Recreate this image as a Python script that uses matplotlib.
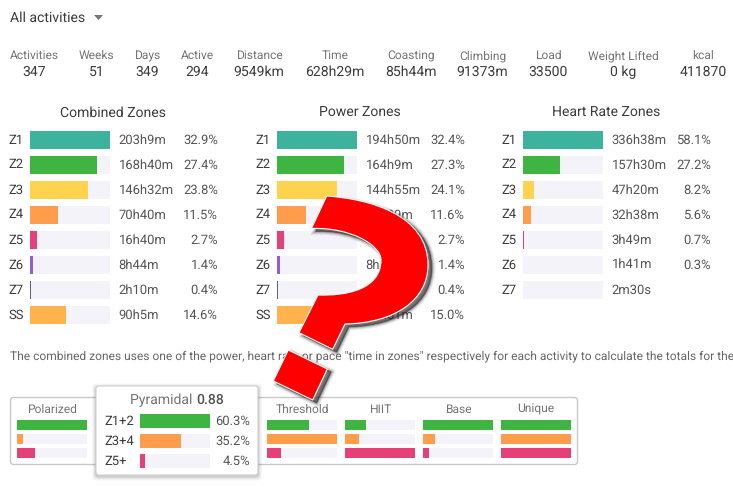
import matplotlib
matplotlib.use('Agg')
import matplotlib.pyplot as plt
from matplotlib.patches import FancyBboxPatch, PathPatch, Polygon
from matplotlib.path import Path

plt.rcParams['font.family'] = ['Roboto', 'DejaVu Sans']
plt.rcParams['text.hinting'] = 'none'
plt.rcParams['text.hinting_factor'] = 1

stat_names = ['Activities', 'Weeks', 'Days', 'Active', 'Distance', 'Time', 'Coasting',
              'Climbing', 'Load', 'Weight Lifted', 'kcal']
stat_values = ['347', '51', '349', '294', '9549km', '628h29m', '85h44m', '91373m', '33500', '0 kg', '411870']

zone_names = ['Z1', 'Z2', 'Z3', 'Z4', 'Z5', 'Z6', 'Z7', 'SS']
zone_colors = ['#3db39e', '#3fb541', '#ffd34d', '#ff9d4d', '#e64176', '#8e5fd9', '#6b5b8c', '#ffb34d']

combined_times = ['203h9m', '168h40m', '146h32m', '70h40m', '16h40m', '8h44m', '2h10m', '90h5m']
combined_pct = [32.9, 27.4, 23.8, 11.5, 2.7, 1.4, 0.4, 14.6]
power_times = ['194h50m', '164h9m', '144h55m', '69h29m', '16h20m', '8h44m', '2h10m', '89h51m']
power_pct = [32.4, 27.3, 24.1, 11.6, 2.7, 1.4, 0.4, 15.0]
hr_times = ['336h38m', '157h30m', '47h20m', '32h38m', '3h49m', '1h41m', '2m30s']
hr_pct = [58.1, 27.2, 8.2, 5.6, 0.7, 0.3, 0.0]

dist_names = ['Polarized', 'Threshold', 'HIIT', 'Base', 'Unique']
dist_z12 = [1.0, 0.6, 0.3, 1.0, 1.0]
dist_z34 = [0.09, 1.0, 0.2, 0.17, 1.0]
dist_z5 = [0.26, 0.2, 1.0, 0.09, 1.0]

pyr_names = ['Z1+2', 'Z3+4', 'Z5+']
pyr_pct = [60.3, 35.2, 4.5]
pyr_colors = ['#3fb541', '#ff9d4d', '#e64176']

note = ('The combined zones uses one of the power, heart rate or pace "time in zones" '
        'respectively for each activity to calculate the totals for the')

DARK = '#3c3c3c'
GREY = '#757575'
TRACK = '#f3f3f9'


def px(n):
    return n * 0.72


fig = plt.figure(figsize=(7.33, 4.87), dpi=100)
ax = fig.add_axes([0, 0, 1, 1])
ax.set_xlim(0, 733)
ax.set_ylim(487, 0)
ax.axis('off')

# header
ax.text(10, 22, 'All activities', fontsize=px(14.2), color=DARK, va='baseline')
ax.add_patch(Polygon([(94, 15), (103, 15), (98.5, 20)], color=GREY, lw=0))

stat_x = [34.5, 96.5, 147.5, 197, 259, 335, 411, 482.5, 548, 623, 703]
for x, name, val in zip(stat_x, stat_names, stat_values):
    ax.text(x, 59, name, fontsize=px(12), color=GREY, ha='center', va='baseline')
    ax.text(x, 76, val, fontsize=px(14), color=DARK, ha='center', va='baseline')


def zone_block(x0, title, times, pct):
    ax.text(x0 + 83, 117, title, fontsize=px(14), color=DARK, ha='center', va='baseline')
    top = max(pct)
    for i, (t, p) in enumerate(zip(times, pct)):
        y = 140 + 25 * i
        ax.barh(y, 80, height=18, left=x0, color=TRACK, lw=0, zorder=1)
        ax.barh(y, p / top * 80, height=18, left=x0, color=zone_colors[i], lw=0, zorder=2)
        ax.text(x0 - 22, y + 3.5, zone_names[i], fontsize=px(13), color=DARK, va='baseline')
        ax.text(x0 + 88.5, y + 3.5, t, fontsize=px(13), color='#555555', va='baseline')
        if p > 0:
            ax.text(x0 + 188, y + 3.5, f'{p:.1f}%', fontsize=px(13), color='#555555', ha='right', va='baseline')


zone_block(30, 'Combined Zones', combined_times, combined_pct)
zone_block(277, 'Power Zones', power_times, power_pct)
zone_block(523, 'Heart Rate Zones', hr_times, hr_pct)

ax.text(10, 359.5, note, fontsize=px(11.88), color='#666666', va='baseline')

# distribution panel
ax.add_patch(FancyBboxPatch((10.5, 397.5), 567, 67, boxstyle='round,pad=0,rounding_size=3',
                            fc='white', ec='#c8c8c8', lw=1, zorder=3))
dist_x = [17, 267, 345, 423, 501]
for j, name in enumerate(dist_names):
    x0 = dist_x[j]
    ax.text(x0 + 35, 413, name, fontsize=px(12), color=GREY, ha='center', va='baseline', zorder=4)
    for y, vals, col in zip([425, 439, 453], [dist_z12, dist_z34, dist_z5], pyr_colors):
        ax.barh(y, 70, height=10, left=x0, color=TRACK, lw=0, zorder=4)
        ax.barh(y, vals[j] * 70, height=10, left=x0, color=col, lw=0, zorder=5)

# tooltip card with soft shadow
for grow, a in [(4, 0.03), (3, 0.04), (2, 0.06), (1, 0.08)]:
    ax.add_patch(FancyBboxPatch((96 - grow, 386 + 1.5 - grow), 162 + 2 * grow, 89 + 2 * grow,
                                boxstyle='round,pad=0,rounding_size=4', fc='black', alpha=a, lw=0, zorder=6))
ax.add_patch(FancyBboxPatch((96, 386), 162, 89, boxstyle='round,pad=0,rounding_size=3',
                            fc='white', ec='#d0d0d0', lw=0.8, zorder=7))
title_txt = ax.text(130, 404, 'Pyramidal ', fontsize=px(14), color=GREY, va='baseline', zorder=8)
ax.annotate('0.88', xy=(1, 0), xycoords=title_txt, va='bottom', fontsize=px(14), color='#555555',
            fontweight='medium', zorder=8, annotation_clip=False)
for i, (name, p) in enumerate(zip(pyr_names, pyr_pct)):
    y = 421 + 20 * i
    ax.text(104, y + 4, name, fontsize=px(13), color=DARK, va='baseline', zorder=8)
    ax.barh(y, 70, height=14, left=140, color=TRACK, lw=0, zorder=8)
    ax.barh(y, p / max(pyr_pct) * 70, height=14, left=140, color=pyr_colors[i], lw=0, zorder=9)
    ax.text(250, y + 4, f'{p:.1f}%', fontsize=px(13), color='#555555', ha='right', va='baseline', zorder=8)

# question mark sticker drawn over the chart
C = Path.CURVE4
hook = [(326.7, 196), (370, 199), (428, 215), (428, 265),
        (428, 300), (395, 323), (345, 324),
        (332.7, 349.3), (299, 332.7), (318, 295),
        (345, 296), (381, 290), (381, 260),
        (381, 245), (350, 227), (311.5, 228.5), (326.7, 196)]
hook_codes = [Path.MOVETO, C, C, C, C, C, C, Path.LINETO, Path.LINETO, Path.LINETO,
              C, C, C, C, C, C, Path.LINETO]
dot = [(288.3, 350), (327.3, 369), (312.7, 400), (273.3, 381), (288.3, 350)]
dot_codes = [Path.MOVETO, Path.LINETO, Path.LINETO, Path.LINETO, Path.CLOSEPOLY]
mark = Path(hook + dot, hook_codes + dot_codes)
shadow = Path([(x + 4, y + 3) for x, y in hook + dot], hook_codes + dot_codes)
for w, a in [(5, 0.08), (3.5, 0.12), (2, 0.2), (0.8, 0.35)]:
    ax.add_patch(PathPatch(shadow, fc='#222222', ec='#222222', lw=w, alpha=a, zorder=20))
ax.add_patch(PathPatch(mark, fc='#ff0000', ec='white', lw=0.8, zorder=21))

fig.savefig('out.png', dpi=100)
